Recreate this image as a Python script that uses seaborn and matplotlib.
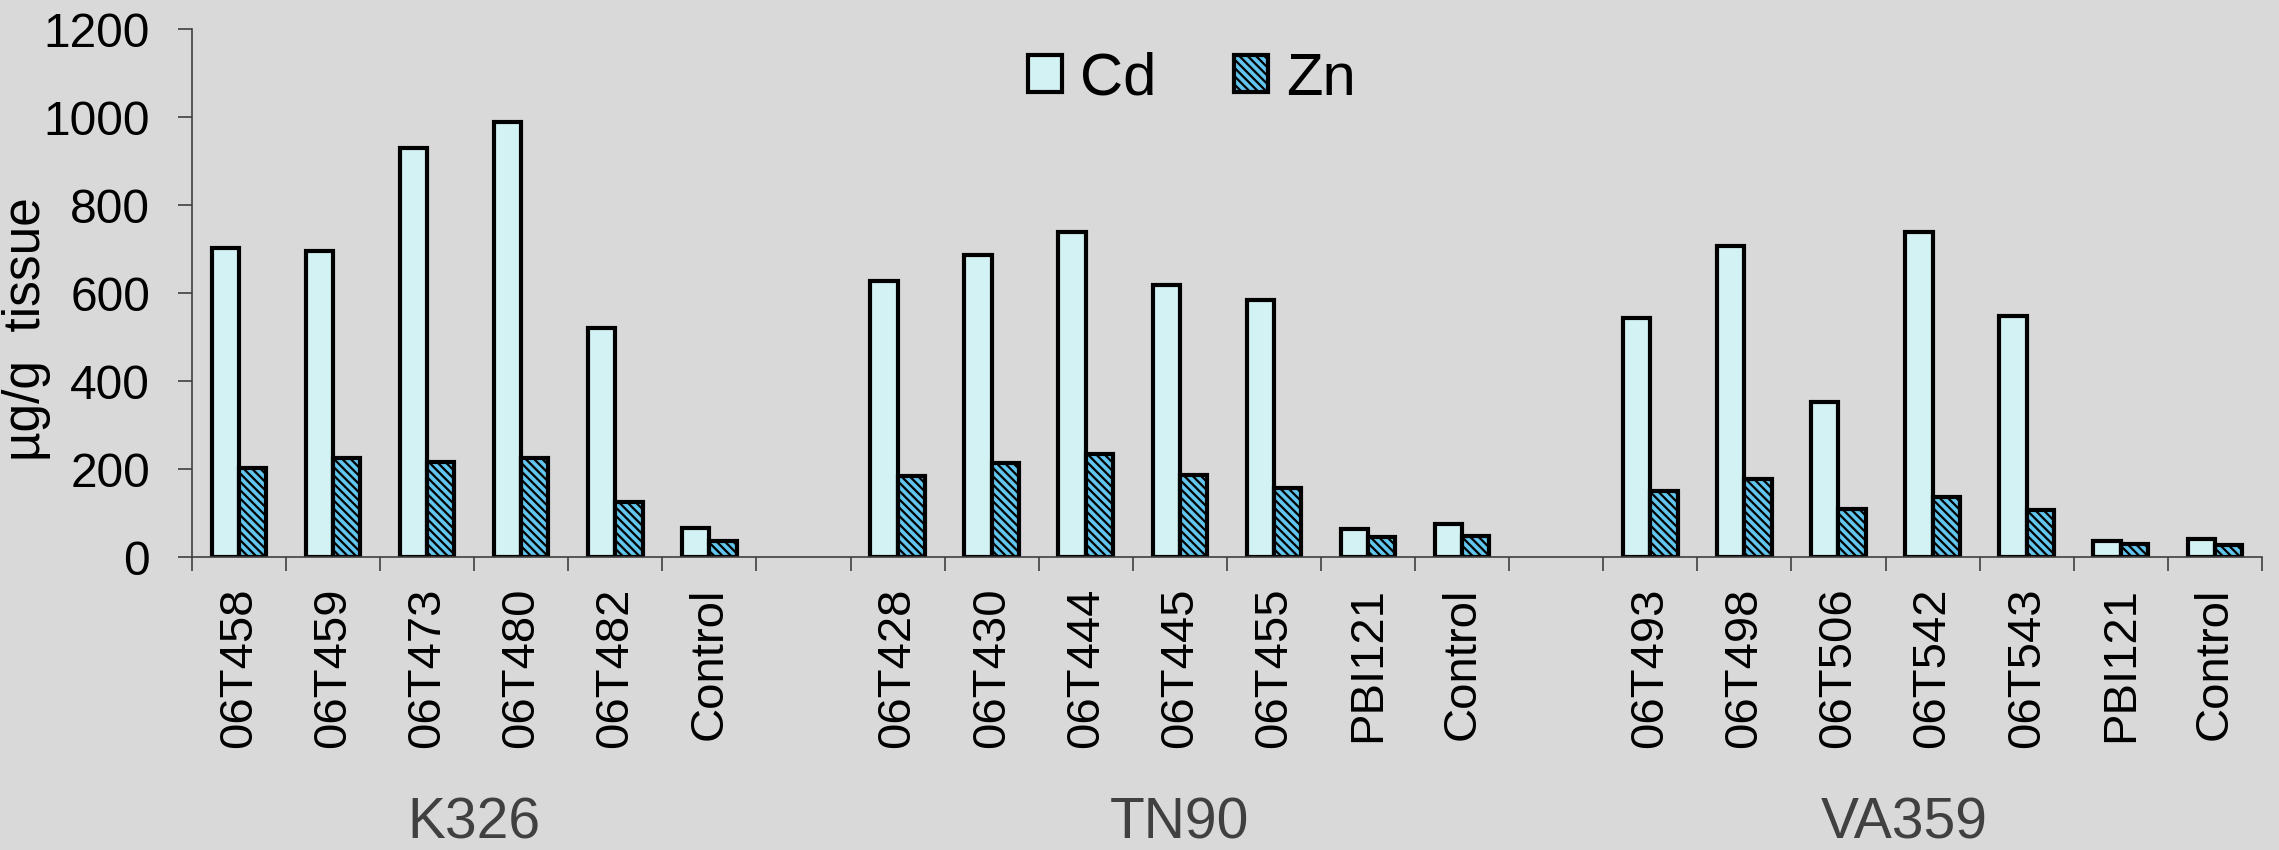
import pandas as pd
import numpy as np
import matplotlib.pyplot as plt
import matplotlib.transforms as mtransforms
import seaborn as sns

# values (µg/g tissue)
groups = ["K326", "TN90", "VA359"]
k326_lines = ["06T458", "06T459", "06T473", "06T480", "06T482", "Control"]
k326_cd = [703, 697, 930, 989, 522, 65]
k326_zn = [203, 226, 216, 226, 126, 37]
tn90_lines = ["06T428", "06T430", "06T444", "06T445", "06T455", "PBI121", "Control"]
tn90_cd = [627, 686, 739, 619, 584, 63, 74]
tn90_zn = [184, 214, 235, 186, 157, 45, 48]
va359_lines = ["06T493", "06T498", "06T506", "06T542", "06T543", "PBI121", "Control"]
va359_cd = [544, 707, 353, 739, 549, 37, 40]
va359_zn = [150, 177, 110, 137, 107, 30, 27]

elements = ["Cd", "Zn"]
cd_color = "#D2F2F4"
zn_color = "#62C5EE"
zn_hatch_color = "#0A5F9A"
bg = "#D9D9D9"

plt.rcParams["font.family"] = ["Liberation Sans", "DejaVu Sans"]
plt.rcParams["hatch.linewidth"] = 1.6

# long table, one empty slot between cultivars
rows = []
order = []
ticklabels = []
group_data = [(k326_lines, k326_cd, k326_zn),
              (tn90_lines, tn90_cd, tn90_zn),
              (va359_lines, va359_cd, va359_zn)]
for gi, (g, (lines, cd, zn)) in enumerate(zip(groups, group_data)):
    if gi > 0:
        order.append(f"gap{gi}")
        ticklabels.append("")
    for ln, c, z in zip(lines, cd, zn):
        key = f"{g}|{ln}"
        order.append(key)
        ticklabels.append(ln)
        rows.append({"slot": key, "element": "Cd", "value": c})
        rows.append({"slot": key, "element": "Zn", "value": z})
df = pd.DataFrame(rows)

fig = plt.figure(figsize=(22.79, 8.5), dpi=100, facecolor=bg)
ax = fig.add_axes([0.0842, 0.3447, 0.9083, 0.6206], facecolor=bg)

sns.barplot(data=df, x="slot", y="value", hue="element", order=order,
            hue_order=elements, palette=[cd_color, zn_color], width=0.58,
            edgecolor="black", linewidth=3, saturation=1, errorbar=None,
            legend=False, ax=ax)

# Zn bars: blue diagonal stripes
for bar in ax.containers[1]:
    bar.set_hatch("\\\\\\\\")
    try:
        bar.set_hatchcolor(zn_hatch_color)
    except AttributeError:
        pass

ax.set_ylim(0, 1200)
ax.set_xlim(-0.5, len(order) - 0.5)
ax.set_yticks(np.arange(0, 1201, 200))
ax.set_xticks(range(len(order)))
ax.set_xticklabels(ticklabels, rotation=90, fontsize=34)
ax.set_xticks(np.arange(-0.5, len(order), 1), minor=True)
ax.tick_params(axis="x", which="major", length=0, pad=22)
ax.tick_params(axis="x", which="minor", length=10, width=1.2, color="#404040")
ax.tick_params(axis="y", length=10, width=1.2, color="#404040", pad=20, labelsize=34.5)
ax.set_xlabel("")
ax.set_ylabel("µg/g  tissue", fontsize=37)
ax.yaxis.set_label_coords(-0.068, 0.432)

for side in ["top", "right"]:
    ax.spines[side].set_visible(False)
for side in ["left", "bottom"]:
    ax.spines[side].set_color("#404040")
    ax.spines[side].set_linewidth(1.2)

# group names under the tick labels
trans = mtransforms.blended_transform_factory(ax.transData, fig.transFigure)
group_x = [2.5, 10, 17.7]
for g, gx in zip(groups, group_x):
    ax.text(gx, 0.014, g, transform=trans, ha="center", va="baseline",
            fontsize=41, color="#404040")

handles = [ax.containers[0][0], ax.containers[1][0]]
ax.legend(handles, elements, loc="center", bbox_to_anchor=(0.483, 0.906),
          ncol=2, frameon=False, fontsize=43, handlelength=0.57,
          handleheight=0.57, handletextpad=0.3, columnspacing=1.3)

plt.savefig("out.png", dpi=100, facecolor=bg)
